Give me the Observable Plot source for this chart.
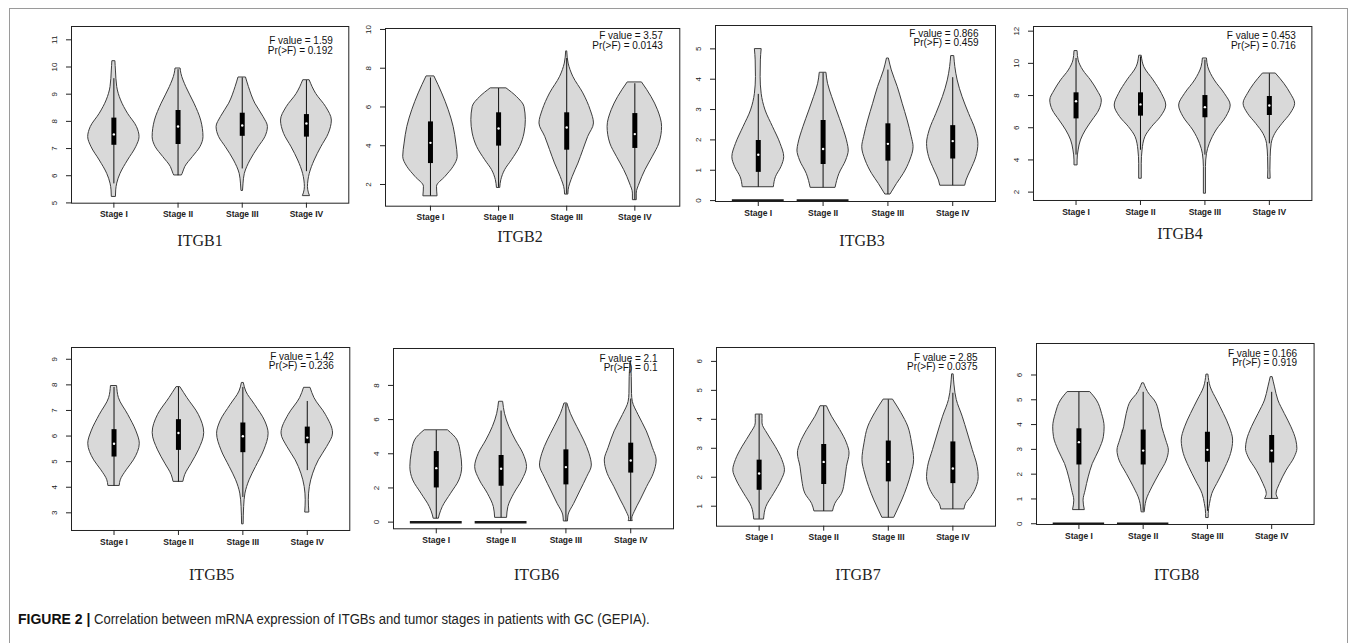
<!DOCTYPE html>
<html>
<head>
<meta charset="utf-8">
<script src="https://cdn.jsdelivr.net/npm/d3@7"></script>
<script src="https://cdn.jsdelivr.net/npm/@observablehq/plot@0.6"></script>
<style>
  body { margin: 0; background: #fff; }
  #fig { position: relative; width: 1355px; height: 643px; overflow: hidden; font-family: "Liberation Sans", Arial, sans-serif; }
  #border { position: absolute; left: 9px; top: 8px; width: 1339px; height: 720px; border: 1px solid #9a9a9a; box-sizing: border-box; }
  .panel { position: absolute; }
  .gene { position: absolute; font-family: "Liberation Serif", "Times New Roman", serif; font-size: 16px; color: #222; transform: translate(-50%, -50%); white-space: nowrap; }
  #caption { position: absolute; left: 18px; top: 611px; font-size: 14px; color: #222; white-space: nowrap; }
  #caption b { font-weight: bold; color: #111; }
  #caption span { display: inline-block; transform: scaleX(0.936); transform-origin: left center; }
</style>
</head>
<body>
<div id="fig">
  <div id="border"></div>
  <div id="caption"><b>FIGURE 2 |</b> <span>Correlation between mRNA expression of ITGBs and tumor stages in patients with GC (GEPIA).</span></div>
</div>
<script>
// ---- data ----
const genes = ["ITGB1", "ITGB2", "ITGB3", "ITGB4", "ITGB5", "ITGB6", "ITGB7", "ITGB8"];
const stages = ["Stage I", "Stage II", "Stage III", "Stage IV"];
const fValues = ["1.59", "3.57", "0.866", "0.453", "1.42", "2.1", "2.85", "0.166"];
const pValues = ["0.192", "0.0143", "0.459", "0.716", "0.236", "0.1", "0.0375", "0.919"];
const yTicks = [
  [5, 6, 7, 8, 9, 10, 11],
  [2, 4, 6, 8, 10],
  [0, 1, 2, 3, 4, 5],
  [2, 4, 6, 8, 10, 12],
  [3, 4, 5, 6, 7, 8, 9],
  [0, 2, 4, 6, 8],
  [1, 2, 3, 4, 5, 6],
  [0, 1, 2, 3, 4, 5, 6]
];
const yDomains = [
  [4.99, 11.49], [0.88, 10.05], [-0.03, 5.77], [1.48, 12.29],
  [2.31, 9.46], [-0.39, 10.16], [0.31, 6.48], [-0.03, 7.27]
];
// stages whose samples sit at zero expression (flat bar at 0)
const zeroBars = [[], [], [1, 2], [], [], [1, 2], [], [1, 2]];

// violin outlines: [expression, relative density] per stage
const itgb1Violins = [
  [[10.2,0.06],[9.87,0.08],[9.26,0.13],[8.77,0.28],[8.28,0.55],[7.79,0.9],[7.42,1.0],[7.05,0.87],[6.56,0.55],[6.07,0.26],[5.71,0.13],[5.46,0.09],[5.22,0.08]],
  [[9.93,0.1],[9.75,0.13],[9.26,0.32],[8.65,0.64],[8.03,0.9],[7.42,0.99],[7.05,0.87],[6.69,0.58],[6.32,0.28],[6.07,0.18],[6.01,0.15]],
  [[9.6,0.15],[9.26,0.26],[8.65,0.51],[8.16,0.83],[7.79,1.0],[7.42,0.9],[7.05,0.64],[6.56,0.32],[6.07,0.1],[5.71,0.05],[5.44,0.03]],
  [[9.5,0.13],[9.01,0.38],[8.52,0.77],[8.03,0.99],[7.54,0.87],[7.05,0.58],[6.56,0.32],[6.07,0.13],[5.58,0.06],[5.35,0.1],[5.25,0.14]]
];
const itgb2Violins = [
  [[7.56,0.15],[6.7,0.43],[5.83,0.67],[4.97,0.85],[4.11,0.95],[3.43,1.0],[2.91,0.85],[2.39,0.55],[1.88,0.24],[1.39,0.26]],
  [[6.95,0.3],[6.52,0.67],[6.0,0.95],[5.32,1.0],[4.63,0.95],[3.94,0.79],[3.25,0.49],[2.74,0.24],[2.22,0.1],[1.82,0.06]],
  [[8.85,0.02],[8.24,0.07],[7.56,0.24],[6.7,0.61],[5.83,0.88],[5.15,1.0],[4.46,0.79],[3.77,0.61],[3.08,0.43],[2.39,0.22],[1.7,0.07],[1.48,0.06]],
  [[7.25,0.27],[6.52,0.61],[5.83,0.85],[4.97,1.0],[4.11,0.9],[3.43,0.66],[2.74,0.39],[2.05,0.18],[1.53,0.07],[1.19,0.07]]
];
const itgb3Violins = [
  [[4.98,0.13],[4.62,0.1],[4.07,0.09],[3.52,0.13],[2.97,0.28],[2.42,0.57],[1.87,0.86],[1.43,1.0],[1.1,0.89],[0.77,0.68],[0.44,0.6]],
  [[4.2,0.13],[3.85,0.19],[3.41,0.35],[2.97,0.53],[2.42,0.76],[1.87,0.95],[1.65,0.99],[1.32,0.89],[0.88,0.63],[0.42,0.48]],
  [[4.67,0.04],[4.29,0.15],[3.74,0.38],[3.19,0.57],[2.64,0.76],[2.09,0.92],[1.76,0.99],[1.32,0.86],[0.88,0.61],[0.55,0.35],[0.27,0.15],[0.2,0.1]],
  [[4.75,0.06],[4.4,0.1],[3.96,0.19],[3.41,0.38],[2.86,0.63],[2.31,0.89],[1.87,0.99],[1.43,0.91],[0.99,0.7],[0.66,0.53],[0.49,0.48]]
];
const itgb4Violins = [
  [[10.74,0.06],[10.18,0.1],[9.56,0.28],[8.94,0.58],[8.31,0.83],[7.69,1.0],[7.07,0.9],[6.45,0.64],[5.83,0.38],[5.21,0.19],[4.59,0.1],[3.97,0.06],[3.66,0.06]],
  [[10.45,0.05],[9.76,0.15],[8.94,0.51],[8.11,0.83],[7.38,1.0],[6.66,0.79],[6.04,0.45],[5.42,0.19],[4.59,0.08],[3.76,0.05],[2.83,0.05]],
  [[10.28,0.08],[9.76,0.13],[8.94,0.38],[8.11,0.77],[7.38,1.0],[6.66,0.83],[5.83,0.45],[5.0,0.19],[4.38,0.08],[3.55,0.04],[1.9,0.04]],
  [[9.35,0.26],[8.73,0.58],[8.11,0.83],[7.49,1.0],[6.87,0.83],[6.24,0.51],[5.62,0.23],[5.0,0.09],[4.17,0.05],[3.35,0.04],[2.83,0.05]]
];
const itgb5Violins = [
  [[7.94,0.12],[7.48,0.19],[6.83,0.55],[6.18,0.87],[5.7,1.0],[5.05,0.77],[4.66,0.49],[4.27,0.26],[4.05,0.22]],
  [[7.9,0.08],[7.48,0.35],[6.83,0.79],[6.12,1.0],[5.44,0.79],[4.92,0.51],[4.47,0.26],[4.21,0.19]],
  [[8.06,0.04],[7.74,0.13],[7.22,0.47],[6.57,0.87],[6.09,1.0],[5.44,0.83],[4.79,0.51],[4.27,0.26],[3.75,0.1],[3.23,0.05],[2.55,0.03]],
  [[7.87,0.13],[7.48,0.28],[6.83,0.72],[6.1,1.0],[5.57,0.77],[5.05,0.45],[4.53,0.23],[4.01,0.1],[3.49,0.06],[3.01,0.08]]
];
const itgb6Violins = [
  [[5.36,0.46],[4.78,0.82],[4.0,0.95],[3.22,1.0],[2.44,0.89],[1.66,0.57],[0.88,0.25],[0.39,0.13],[0.2,0.1]],
  [[7.02,0.08],[6.34,0.15],[5.56,0.32],[4.78,0.57],[4.0,0.86],[3.22,1.0],[2.44,0.82],[1.66,0.51],[0.88,0.28],[0.25,0.23]],
  [[6.92,0.06],[6.34,0.19],[5.56,0.44],[4.78,0.7],[4.0,0.91],[3.31,1.0],[2.63,0.82],[1.85,0.57],[1.07,0.32],[0.39,0.1],[0.04,0.08]],
  [[9.4,0.01],[8.5,0.04],[7.5,0.05],[7.04,0.08],[6.27,0.3],[5.31,0.62],[4.35,0.85],[3.61,1.0],[2.83,0.89],[2.05,0.63],[1.27,0.38],[0.58,0.15],[0.2,0.06],[0.06,0.08]]
];
const itgb7Violins = [
  [[4.15,0.13],[3.86,0.13],[3.51,0.32],[3.05,0.64],[2.59,0.9],[2.24,1.0],[1.89,0.87],[1.43,0.58],[0.97,0.28],[0.54,0.19]],
  [[4.44,0.13],[4.09,0.32],[3.63,0.64],[3.17,0.9],[2.82,1.0],[2.36,0.9],[1.89,0.83],[1.43,0.71],[1.08,0.45],[0.82,0.36]],
  [[4.67,0.19],[4.21,0.51],[3.75,0.77],[3.17,0.92],[2.59,1.0],[2.13,0.9],[1.66,0.74],[1.2,0.54],[0.85,0.36],[0.6,0.23]],
  [[5.54,0.03],[5.2,0.06],[4.9,0.1],[4.67,0.15],[4.09,0.38],[3.51,0.58],[2.94,0.77],[2.36,0.96],[2.01,1.0],[1.66,0.92],[1.31,0.71],[1.08,0.51],[0.89,0.45]]
];
const itgb8Violins = [
  [[5.3,0.45],[4.97,0.7],[4.43,0.9],[3.89,1.0],[3.49,0.97],[2.95,0.79],[2.41,0.54],[1.87,0.38],[1.33,0.26],[0.93,0.18],[0.55,0.23]],
  [[5.65,0.04],[5.2,0.26],[4.97,0.45],[4.43,0.64],[3.89,0.74],[3.35,0.9],[2.95,1.0],[2.55,0.92],[2.01,0.64],[1.47,0.36],[0.93,0.13],[0.66,0.08],[0.46,0.06]],
  [[6.0,0.04],[5.5,0.13],[4.97,0.38],[4.43,0.64],[3.89,0.87],[3.35,1.0],[2.82,0.92],[2.28,0.71],[1.74,0.45],[1.2,0.19],[0.8,0.1],[0.39,0.05],[0.23,0.05]],
  [[5.9,0.04],[5.5,0.13],[4.97,0.26],[4.43,0.51],[3.89,0.77],[3.35,0.96],[3.02,1.0],[2.68,0.9],[2.14,0.58],[1.6,0.32],[1.2,0.19],[1.0,0.26]]
];

// box summaries per stage: [whisker low, Q1, median, Q3, whisker high]
const itgb1Boxes = [[5.7,7.12,7.52,8.12,9.57],[6.0,7.15,7.81,8.4,9.9],[6.25,7.45,7.85,8.3,9.6],[6.15,7.42,7.92,8.25,9.5]];
const itgb2Boxes = [[1.4,3.08,4.15,5.23,7.5],[1.85,3.98,4.89,5.7,6.95],[1.5,3.77,4.94,5.7,8.5],[1.2,3.86,4.6,5.66,7.2]];
const itgb3Boxes = [[0.44,0.93,1.51,1.98,3.5],[0.42,1.19,1.7,2.64,4.2],[0.2,1.3,1.87,2.53,4.3],[0.49,1.37,1.96,2.47,4.05]];
const itgb4Boxes = [[4.3,6.55,7.65,8.17,10.3],[4.6,6.72,7.45,8.17,10.4],[4.3,6.62,7.28,8.0,10.2],[5.0,6.76,7.38,7.94,9.35]];
const itgb5Boxes = [[4.05,5.18,5.7,6.25,7.9],[4.2,5.44,6.12,6.64,7.9],[3.6,5.35,5.99,6.51,7.9],[4.65,5.7,5.94,6.35,7.35]];
const itgb6Boxes = [[0.2,2.0,3.16,4.13,5.36],[0.25,2.1,3.12,3.9,6.5],[0.04,2.18,3.22,4.23,6.9],[0.06,2.87,3.61,4.62,7.2]];
const itgb7Boxes = [[0.55,1.55,2.13,2.59,4.15],[0.82,1.75,2.53,3.13,4.44],[0.6,1.84,2.53,3.25,4.67],[0.89,1.78,2.3,3.22,4.9]];
const itgb8Boxes = [[0.55,2.37,3.29,3.83,5.3],[0.5,2.37,2.95,3.78,5.3],[0.5,2.48,2.98,3.69,5.7],[1.0,2.45,2.95,3.56,5.3]];

const violinSets = [itgb1Violins, itgb2Violins, itgb3Violins, itgb4Violins, itgb5Violins, itgb6Violins, itgb7Violins, itgb8Violins];
const boxSets = [itgb1Boxes, itgb2Boxes, itgb3Boxes, itgb4Boxes, itgb5Boxes, itgb6Boxes, itgb7Boxes, itgb8Boxes];

// ---- layout ----
// plot frame of each panel on the page: [left, top, right, bottom]
const frames = [
  [70.7, 26, 348, 202.7], [385, 28.3, 679.3, 206], [715, 25, 995, 201], [1033.3, 26, 1311.7, 200],
  [70.7, 347, 349, 530], [393.3, 348, 673.3, 528.3], [716, 347, 995, 525.7], [1035.7, 343, 1313.3, 524]
];
// stats text offsets inside each frame: [from right, line 1 from top, line 2 from top]
const statOffsets = [[16,14,24],[17,7,17],[17,8,17],[16,9,19],[16,9,18],[16,10,19],[18,10,19],[17,10,19]];
// gene name centres
const geneCenters = [[200,241],[520,237],[862,241],[1180,234],[211.7,575],[536.7,575],[858,575],[1176.7,575]];

const HALF = 0.4;       // maximum half-width of a violin, in stage units
const M = {left: 40, right: 8, top: 8, bottom: 28};
const fig = document.getElementById("fig");

genes.forEach((gene, i) => {
  const [L, T, R, B] = frames[i];
  const rows = violinSets[i].flatMap((pts, s) => pts.map(([v, w]) => ({stage: s + 1, v, w})));
  const boxes = boxSets[i].map(([lo, q1, med, q3, hi], s) => ({stage: s + 1, lo, q1, med, q3, hi}));
  const [so, s1, s2] = statOffsets[i];

  const chart = Plot.plot({
    width: (R - L) + M.left + M.right,
    height: (B - T) + M.top + M.bottom,
    marginLeft: M.left, marginRight: M.right, marginTop: M.top, marginBottom: M.bottom,
    x: {domain: [0.34, 4.66]},
    y: {domain: yDomains[i]},
    style: {background: "transparent", fontFamily: "Liberation Sans, Arial, sans-serif", color: "#222", overflow: "visible"},
    marks: [
      Plot.areaX(rows, {
        y: "v", x1: d => d.stage - HALF * d.w, x2: d => d.stage + HALF * d.w, z: "stage",
        fill: "#d9d9d9", stroke: "#3c3c3c", strokeWidth: 1, curve: "monotone-y"
      }),
      Plot.ruleY(zeroBars[i], {y: 0, x1: d => d - HALF, x2: d => d + HALF, stroke: "#1a1a1a", strokeWidth: 2.5}),
      Plot.ruleX(boxes, {x: "stage", y1: "lo", y2: "hi", stroke: "#111", strokeWidth: 1}),
      Plot.ruleX(boxes, {x: "stage", y1: "q1", y2: "q3", stroke: "#000", strokeWidth: 5}),
      Plot.dot(boxes, {x: "stage", y: "med", r: 1.2, fill: "#fff"}),
      Plot.frame({stroke: "#222", strokeWidth: 1}),
      Plot.axisY({ticks: yTicks[i], tickSize: 5, tickFormat: () => "", label: null, stroke: "#222"}),
      Plot.text(yTicks[i], {y: d => d, text: d => String(d), frameAnchor: "left", dx: -17, rotate: -90, textAnchor: "middle", lineAnchor: "middle", fontSize: 8, fill: "#222"}),
      Plot.axisX({ticks: [1, 2, 3, 4], tickFormat: d => stages[d - 1], tickSize: 5, tickPadding: 3, fontSize: 8.5, fontWeight: "bold", label: null, stroke: "#222"}),
      Plot.text([`F value = ${fValues[i]}`], {text: d => d, frameAnchor: "top-right", dx: -so, dy: s1, textAnchor: "end", lineAnchor: "middle", fontSize: 10, fill: "#111"}),
      Plot.text([`Pr(>F) = ${pValues[i]}`], {text: d => d, frameAnchor: "top-right", dx: -so, dy: s2, textAnchor: "end", lineAnchor: "middle", fontSize: 10, fill: "#111"})
    ]
  });
  chart.classList.add("panel");
  chart.style.left = (L - M.left) + "px";
  chart.style.top = (T - M.top) + "px";
  fig.appendChild(chart);

  const label = document.createElement("div");
  label.className = "gene";
  label.textContent = gene;
  label.style.left = geneCenters[i][0] + "px";
  label.style.top = geneCenters[i][1] + "px";
  fig.appendChild(label);
});
</script>
</body>
</html>
